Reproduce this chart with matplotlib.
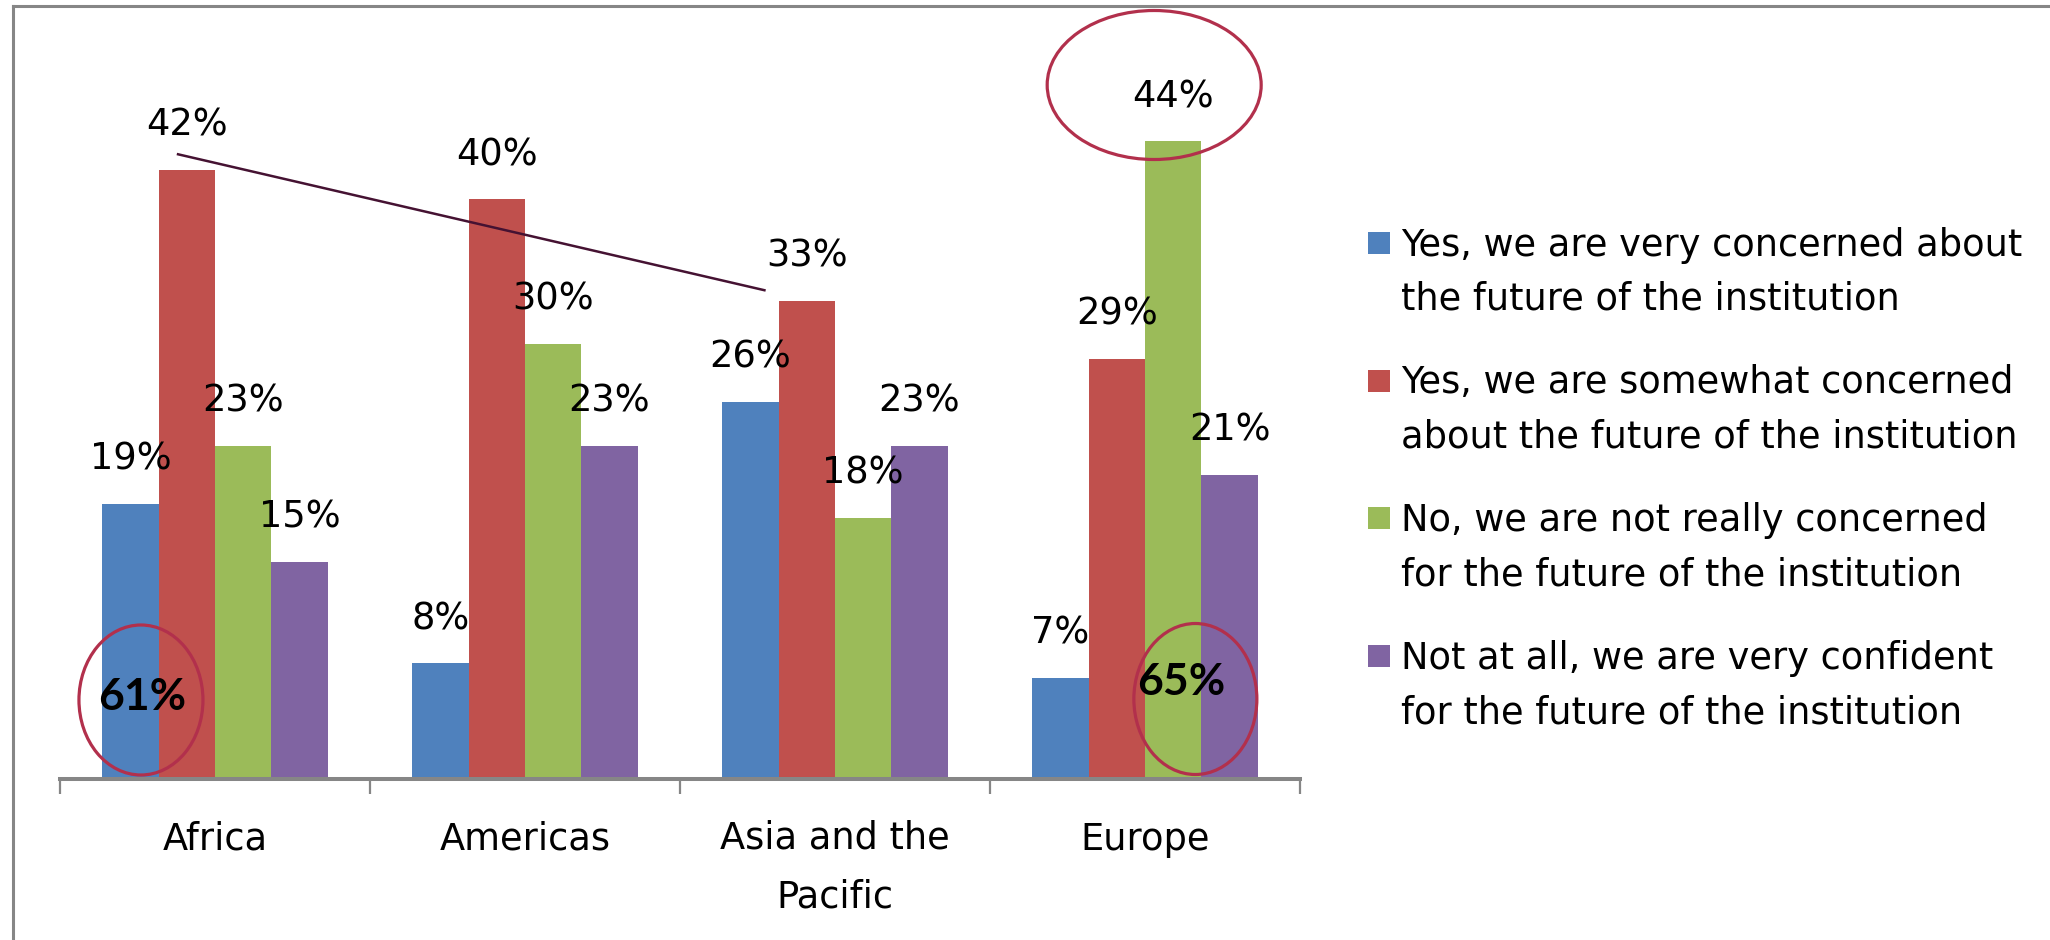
import numpy as np
import matplotlib
matplotlib.use("Agg")
import matplotlib.pyplot as plt
from matplotlib.patches import Ellipse, Rectangle
from matplotlib.lines import Line2D

# ---------------- data ----------------
categories = ["Africa", "Americas", "Asia and the\nPacific", "Europe"]
series_names = [
    "Yes, we are very concerned about\nthe future of the institution",
    "Yes, we are somewhat concerned\nabout the future of the institution",
    "No, we are not really concerned\nfor the future of the institution",
    "Not at all, we are very confident\nfor the future of the institution",
]
very_concerned = [19, 8, 26, 7]
somewhat_concerned = [42, 40, 33, 29]
not_really_concerned = [23, 30, 18, 44]
not_at_all = [15, 23, 23, 21]
series_values = [very_concerned, somewhat_concerned, not_really_concerned, not_at_all]
colors = ["#4F81BD", "#C0504D", "#9BBB59", "#8064A2"]

# ---------------- layout ----------------
W, H = 2050, 940
fig = plt.figure(figsize=(W / 100, H / 100), dpi=100)
fig.patch.set_facecolor("white")

ymax = 50
ax_left, ax_right = 60, 1300
base_y = 779
px_per_pct = 14.5
ax_top = base_y - ymax * px_per_pct
ax = fig.add_axes([ax_left / W, (H - base_y) / H,
                   (ax_right - ax_left) / W, (base_y - ax_top) / H])
ax.set_xlim(-0.5, len(categories) - 0.5)
ax.set_ylim(0, ymax)
ax.set_facecolor("white")

PXX = (len(categories)) / (ax_right - ax_left)   # data units per pixel (x)
PXY = ymax / (base_y - ax_top)                    # data units per pixel (y)

FS = 26.5
TXT = "#000000"
idx = np.arange(len(categories))
nser = len(series_values)
bw = 1.0 / (nser + 1.5)
xcs = []
for s, vals in enumerate(series_values):
    xc = idx + (s - (nser - 1) / 2) * bw
    xcs.append(xc)
    ax.bar(xc, vals, width=bw, color=colors[s], zorder=2, linewidth=0)
    for x, v in zip(xc, vals):
        ax.annotate(f"{v}%", (x, v), xytext=(0, 34 * 0.72), textcoords="offset points",
                    ha="center", va="baseline", fontsize=FS, color=TXT, zorder=5)

# axes styling
for sp in ["top", "right", "left"]:
    ax.spines[sp].set_visible(False)
ax.spines["bottom"].set_color("#868686")
ax.spines["bottom"].set_linewidth(2.9)
ax.set_yticks([])
ax.set_xticks(np.arange(-0.5, len(categories), 1.0))
ax.set_xticklabels([])
ax.tick_params(axis="x", which="major", length=10.8, width=1.6, color="#868686", direction="out")
cat_gap = 57
for i, c in enumerate(categories):
    nl = c.count("\n")
    ax.text(i, -(71 + nl * cat_gap) * PXY, c, ha="center", va="baseline", fontsize=FS,
            color=TXT, linespacing=1.73, clip_on=False)

# ---------------- annotations ----------------
ring = "#B2304C"
# trend line over "somewhat concerned" bars (Africa -> Asia)
red = xcs[1]
x0 = red[0] - 10 * PXX
y0 = somewhat_concerned[0] + 16 * PXY
x1 = red[2] - bw / 2 - 13 * PXX
y1 = somewhat_concerned[2] + 10 * PXY
ax.plot([x0, x1], [y0, y1], color="#451232", lw=1.8, zorder=6, clip_on=False,
        solid_capstyle="butt")

# Africa total "yes"
africa_yes = very_concerned[0] + somewhat_concerned[0]
cx = xcs[0][0] + 10.5 * PXX
ax.add_patch(Ellipse((cx, 79 * PXY), 124 * PXX, 150 * PXY, fill=False, ec=ring,
                     lw=2.3, zorder=7, clip_on=False))
ax.text(xcs[0][0] + 11.5 * PXX, 69 * PXY, f"{africa_yes}%", ha="center", va="baseline",
        fontsize=32, fontfamily="Lato", fontweight="bold", color="black", zorder=8)

# Europe total "no"
europe_no = not_really_concerned[3] + not_at_all[3]
bnd = (xcs[2][3] + xcs[3][3]) / 2
ax.add_patch(Ellipse((bnd - 6 * PXX, 80 * PXY), 123 * PXX, 151 * PXY, fill=False, ec=ring,
                     lw=2.3, zorder=7, clip_on=False))
ax.text(bnd - 20 * PXX, 84 * PXY, f"{europe_no}%", ha="center", va="baseline",
        fontsize=32, fontfamily="Lato", fontweight="bold", color="black", zorder=8)

# ring around Europe 44%
ax.add_patch(Ellipse((xcs[2][3] - 19 * PXX, not_really_concerned[3] + 56 * PXY),
                     214 * PXX, 149 * PXY, fill=False, ec=ring, lw=2.3, zorder=7,
                     clip_on=False))

# ---------------- legend (manual) ----------------
leg_sq_x = 1368
leg_txt_x = 1401
leg_y0 = 243
leg_step = 137.7
leg_gap = 54
sq = 22
for s, name in enumerate(series_names):
    yc = leg_y0 + s * leg_step
    nl = name.count("\n")
    fig.add_artist(Rectangle((leg_sq_x / W, 1 - (yc + sq / 2) / H), sq / W, sq / H,
                             transform=fig.transFigure, facecolor=colors[s], edgecolor="none"))
    fig.text(leg_txt_x / W, 1 - (yc + 13 + nl * leg_gap) / H, name, ha="left", va="baseline",
             fontsize=FS, color=TXT, linespacing=1.6)

# ---------------- outer frame (top & left) ----------------
fc = "#868686"
fig.add_artist(Line2D([12.5 / W, 1.0], [1 - 5.5 / H, 1 - 5.5 / H], transform=fig.transFigure,
                      color=fc, lw=2.2))
fig.add_artist(Line2D([12.5 / W, 12.5 / W], [0, 1 - 5.5 / H], transform=fig.transFigure,
                      color=fc, lw=2.2))

fig.savefig("out.png", dpi=100)
